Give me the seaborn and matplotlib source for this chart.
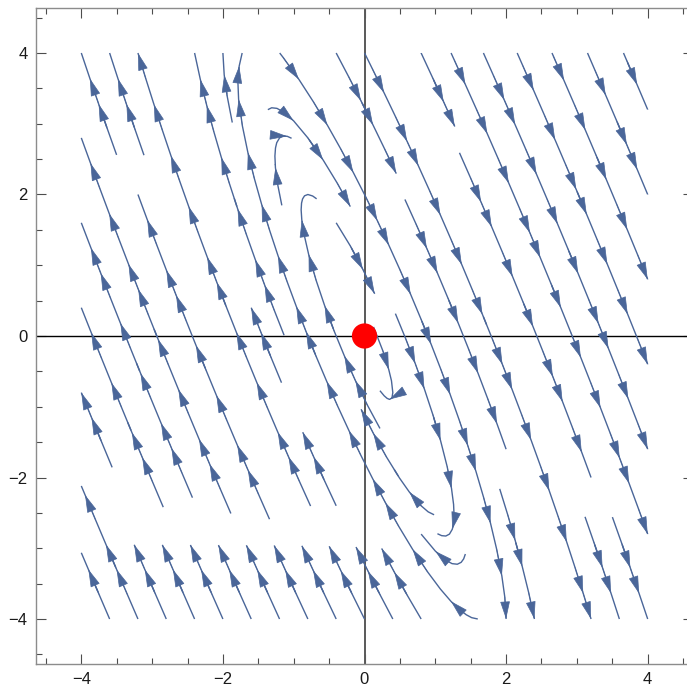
import numpy as np
import matplotlib.pyplot as plt
from matplotlib.patches import FancyArrowPatch
from matplotlib.ticker import MultipleLocator
import seaborn as sns

# linear system  x' = a11 x + a12 y ,  y' = a21 x + a22 y
a11, a12 = 2, 1
a21, a22 = -5, -2

x_range = (-4, 4)
y_range = (-4, 4)
eq_x = [0]
eq_y = [0]
ticks = [-4, -2, 0, 2, 4]

sns.set_theme(style="ticks")
plt.rcParams['font.family'] = ['Liberation Sans', 'DejaVu Sans']

fig = plt.figure(figsize=(6.87, 6.88), dpi=100)
ax = fig.add_axes([36 / 687, 24 / 688, 657 / 687, 656 / 688])

xs = np.linspace(x_range[0], x_range[1], 120)
ys = np.linspace(y_range[0], y_range[1], 120)
X, Y = np.meshgrid(xs, ys)
U = a11 * X + a12 * Y
V = a21 * X + a22 * Y

stream_color = "#4a6699"
ax.axhline(0, color="black", lw=1.0, zorder=1)
ax.axvline(0, color="0.35", lw=1.4, zorder=1)
sp = ax.streamplot(X, Y, U, V, color=stream_color, density=0.7, linewidth=1.0,
                   arrowstyle="-", arrowsize=0.1, zorder=2)

# split the line collection back into single streamlines (in flow order)
segs = sp.lines.get_segments()
chains = []
cur = []
for s in segs:
    s = np.asarray(s)
    if cur and np.allclose(cur[-1], s[0]):
        cur.extend(list(s[1:]))
    else:
        if len(cur) > 1:
            chains.append(np.array(cur))
        cur = list(s)
if len(cur) > 1:
    chains.append(np.array(cur))

# several arrowheads along each streamline, like Mathematica does
step, first = 0.68, 0.4
for c in chains:
    d = np.hypot(*np.diff(c, axis=0).T)
    arc = np.concatenate([[0], np.cumsum(d)])
    pos = first
    while pos < arc[-1] - 0.05:
        i = np.searchsorted(arc, pos)
        i = min(max(i, 1), len(c) - 1)
        a = FancyArrowPatch(c[i - 1], c[i], arrowstyle="-|>,head_length=0.54,head_width=0.15",
                            mutation_scale=21, facecolor=stream_color,
                            edgecolor=stream_color, lw=0.5,
                            shrinkA=0, shrinkB=0, zorder=2)
        ax.add_patch(a)
        pos += step

sns.scatterplot(x=eq_x, y=eq_y, color="red", s=330, edgecolor="none",
                ax=ax, zorder=4, legend=False)

ax.set_xlim(-4.64, 4.64)
ax.set_ylim(-4.636, 4.636)
ax.set_xticks(ticks)
ax.set_yticks(ticks)
ax.xaxis.set_minor_locator(MultipleLocator(0.5))
ax.yaxis.set_minor_locator(MultipleLocator(0.5))
ax.tick_params(which="both", direction="in", top=True, right=True,
               labeltop=False, labelright=False, color="0.3", width=0.8)
ax.tick_params(which="major", length=7, labelsize=12, pad=6, labelcolor="0.1")
ax.tick_params(which="minor", length=4)
for spine in ax.spines.values():
    spine.set_color("0.55")
    spine.set_linewidth(1.0)
ax.set_xlabel("")
ax.set_ylabel("")

fig.savefig("out.png", dpi=100)
